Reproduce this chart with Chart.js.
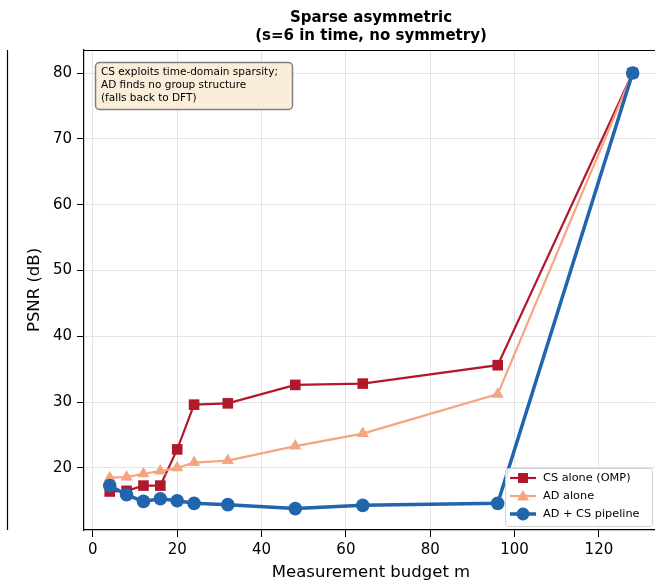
<!DOCTYPE html>
<html>
<head>
<meta charset="utf-8">
<script src="https://cdn.jsdelivr.net/npm/chart.js@4/dist/chart.umd.min.js"></script>
<style>
  html, body { margin: 0; padding: 0; background: #fff; }
  #wrap { width: 655px; height: 584px; }
</style>
</head>
<body>
<div id="wrap"><canvas id="chart" width="655" height="584"></canvas></div>
<script>
// =========================
// DATA
// =========================

const budgets = [4, 8, 12, 16, 20, 24, 32, 48, 64, 96, 128];

const csAlone = [16.4, 16.5, 17.3, 17.3, 22.8, 29.6, 29.8, 32.6, 32.8, 35.6, 80.0];
const adAlone = [18.5, 18.6, 19.1, 19.5, 20.0, 20.8, 21.1, 23.3, 25.2, 31.2, 80.0];
const pipeline = [17.3, 15.9, 14.9, 15.3, 15.0, 14.6, 14.4, 13.8, 14.3, 14.6, 80.0];

const xTicks = [0, 20, 40, 60, 80, 100, 120];
const yTicks = [20, 30, 40, 50, 60, 70, 80];

const titleLines = ["Sparse asymmetric", "(s=6 in time, no symmetry)"];
const noteLines = ["CS exploits time-domain sparsity;", "AD finds no group structure", "(falls back to DFT)"];

const RED = "#b2182b";
const SALMON = "#f4a582";
const BLUE = "#2166ac";
const FONT = "'DejaVu Sans', sans-serif";

// radius is Chart.js point radius; legend uses its own marker size
const series = [
  { label: "CS alone (OMP)", data: csAlone, color: RED, style: "rect", radius: 7.5, legendR: 5, width: 2.2, order: 3 },
  { label: "AD alone", data: adAlone, color: SALMON, style: "triangle", radius: 7, legendR: 6, width: 2.2, order: 2 },
  { label: "AD + CS pipeline", data: pipeline, color: BLUE, style: "circle", radius: 6.8, legendR: 6.5, width: 3.5, order: 1 }
];


// =========================
// EXTRA DRAWING (titles, frame, note, legend)
// =========================

function drawMarker(ctx, style, x, y, r, color) {
  ctx.fillStyle = color;
  ctx.beginPath();
  if (style === "rect") {
    ctx.rect(x - r, y - r, 2 * r, 2 * r);
  } else if (style === "triangle") {
    ctx.moveTo(x, y - r);
    ctx.lineTo(x + r, y + r * 0.75);
    ctx.lineTo(x - r, y + r * 0.75);
    ctx.closePath();
  } else {
    ctx.arc(x, y, r, 0, Math.PI * 2);
  }
  ctx.fill();
}

function roundBox(ctx, x, y, w, h, r) {
  ctx.beginPath();
  ctx.moveTo(x + r, y);
  ctx.arcTo(x + w, y, x + w, y + h, r);
  ctx.arcTo(x + w, y + h, x, y + h, r);
  ctx.arcTo(x, y + h, x, y, r);
  ctx.arcTo(x, y, x + w, y, r);
  ctx.closePath();
}

const decorations = {
  id: "decorations",
  afterDraw(chart) {
    const ctx = chart.ctx;
    const a = chart.chartArea;
    ctx.save();

    // title
    ctx.fillStyle = "#000";
    ctx.textAlign = "center";
    ctx.textBaseline = "middle";
    ctx.font = "bold 15px " + FONT;
    const cx = 371;
    ctx.fillText(titleLines[0], cx, 18);
    ctx.fillText(titleLines[1], cx, 36);

    // axis titles
    ctx.font = "16.5px " + FONT;
    ctx.fillText("Measurement budget m", cx, 573);
    ctx.save();
    ctx.translate(35, (a.top + a.bottom) / 2);
    ctx.rotate(-Math.PI / 2);
    ctx.fillText("PSNR (dB)", 0, 0);
    ctx.restore();

    // top frame line and stray left spine
    ctx.strokeStyle = "#000";
    ctx.lineWidth = 1.2;
    ctx.beginPath();
    ctx.moveTo(a.left, a.top + 0.5);
    ctx.lineTo(a.right, a.top + 0.5);
    ctx.stroke();
    ctx.beginPath();
    ctx.moveTo(7.5, a.top);
    ctx.lineTo(7.5, a.bottom);
    ctx.stroke();

    // note box
    roundBox(ctx, 95.5, 62.5, 197, 47, 4);
    ctx.fillStyle = "#faeedb";
    ctx.fill();
    ctx.strokeStyle = "#808080";
    ctx.lineWidth = 1.5;
    ctx.stroke();
    ctx.fillStyle = "#000";
    ctx.textAlign = "left";
    ctx.font = "10.5px " + FONT;
    noteLines.forEach((t, i) => ctx.fillText(t, 101, 72 + i * 13.2));

    // legend
    roundBox(ctx, 505.5, 468.5, 147, 58, 3);
    ctx.fillStyle = "rgba(255,255,255,0.85)";
    ctx.fill();
    ctx.strokeStyle = "#d0d0d0";
    ctx.lineWidth = 1;
    ctx.stroke();
    ctx.font = "11.3px " + FONT;
    series.forEach((s, i) => {
      const y = 478 + i * 18;
      ctx.strokeStyle = s.color;
      ctx.lineWidth = s.width;
      ctx.beginPath();
      ctx.moveTo(510, y);
      ctx.lineTo(536, y);
      ctx.stroke();
      drawMarker(ctx, s.style, 523, y, s.legendR, s.color);
      ctx.fillStyle = "#000";
      ctx.fillText(s.label, 543, y + 0.5);
    });

    ctx.restore();
  }
};


// =========================
// CHART
// =========================

new Chart(document.getElementById("chart").getContext("2d"), {
  type: "line",
  data: {
    datasets: series.map(s => ({
      label: s.label,
      data: budgets.map((b, i) => ({ x: b, y: s.data[i] })),
      borderColor: s.color,
      backgroundColor: s.color,
      borderWidth: s.width,
      pointStyle: s.style,
      pointRadius: s.radius,
      pointBorderWidth: 0,
      pointHoverRadius: s.radius,
      tension: 0,
      order: s.order
    }))
  },
  options: {
    responsive: false,
    animation: false,
    layout: { autoPadding: false, padding: { top: 50, right: 0, left: 0, bottom: 0 } },
    plugins: {
      legend: { display: false },
      title: { display: false },
      tooltip: { enabled: false }
    },
    scales: {
      x: {
        type: "linear",
        min: -2.1,
        max: 133.3,
        afterBuildTicks: scale => { scale.ticks = xTicks.map(v => ({ value: v })); },
        afterFit: scale => { scale.height = 54; },
        grid: { color: "#e3e3e3", tickColor: "#000", tickLength: 7, lineWidth: 1 },
        border: { color: "#000", width: 1.2 },
        ticks: { color: "#000", font: { family: FONT, size: 15 }, padding: 4, maxRotation: 0 }
      },
      y: {
        min: 10.55,
        max: 83.5,
        afterBuildTicks: scale => { scale.ticks = yTicks.map(v => ({ value: v })); },
        afterFit: scale => { scale.width = 84; },
        grid: { color: "#e3e3e3", tickColor: "#000", tickLength: 7, lineWidth: 1 },
        border: { color: "#000", width: 1.2 },
        ticks: { color: "#000", font: { family: FONT, size: 15 }, padding: 5 }
      }
    }
  },
  plugins: [decorations]
});
</script>
</body>
</html>
